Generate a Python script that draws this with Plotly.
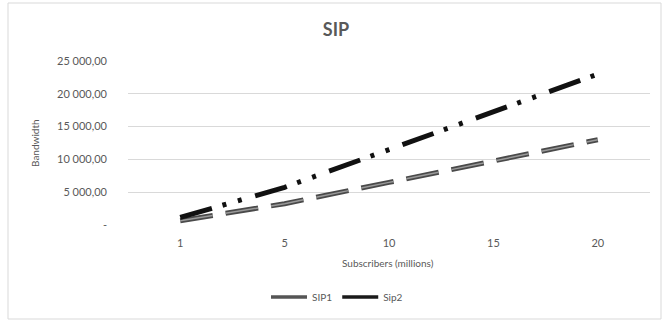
import plotly.graph_objects as go

# ---- data ----
subscribers = ["1", "5", "10", "15", "20"]
sip1 = [650, 3250, 6500, 9750, 13000]
sip2 = [1150, 5750, 11500, 17250, 23000]
y_tickvals = [0, 5000, 10000, 15000, 20000, 25000]
y_ticktext = ["-", "5 000,00", "10 000,00", "15 000,00", "20 000,00", "25 000,00"]

W, H = 670, 323
L, R, T, B = 128, 20, 61, 98
pw, ph = W - L - R, H - T - B

def px_x(x):
    return (x - L) / pw

def px_y(y):
    return (H - B - y) / ph

FONT = "Lato, 'Open Sans', sans-serif"
GRAY = "#595959"

fig = go.Figure()
fig.add_trace(go.Scatter(
    x=subscribers, y=sip1, name="SIP1", mode="lines", showlegend=False,
    line=dict(color="#4a4a4a", width=5, dash="33px,13px"),
))
fig.add_trace(go.Scatter(
    x=subscribers, y=sip1, name="SIP1", mode="lines", showlegend=False,
    line=dict(color="#9a9a9a", width=1.5, dash="33px,13px"), hoverinfo="skip",
))
fig.add_trace(go.Scatter(
    x=subscribers, y=sip2, name="Sip2", mode="lines", showlegend=False,
    line=dict(color="#111111", width=5, dash="33px,11px,4px,12px,4px,14px"),
))
# legend entries (solid samples, as in the reference)
fig.add_trace(go.Scatter(x=[None], y=[None], name="SIP1", mode="lines",
                         line=dict(color="#555555", width=3.5)))
fig.add_trace(go.Scatter(x=[None], y=[None], name="Sip2", mode="lines",
                         line=dict(color="#1a1a1a", width=3.5)))

fig.update_layout(
    width=W, height=H,
    margin=dict(l=L, r=R, t=T, b=B),
    paper_bgcolor="white", plot_bgcolor="white",
    font=dict(family=FONT, size=10, color=GRAY),
    title=dict(text="SIP", x=px_x(336), xref="paper", xanchor="center",
               y=1 - 30 / H, yref="container", yanchor="middle",
               font=dict(size=18, color=GRAY, weight="bold")),
    showlegend=True,
    legend=dict(orientation="h", x=px_x(337), xanchor="center",
                y=1 - 297 / H, yref="container", yanchor="middle",
                font=dict(size=10, color=GRAY), itemwidth=36),
    xaxis=dict(type="category", range=[-0.5, 4.5], showgrid=False,
               showline=False, zeroline=False, ticks="",
               tickfont=dict(size=11, color=GRAY), ticklabelstandoff=10),
    yaxis=dict(range=[0, 25000], tickvals=y_tickvals, ticktext=y_ticktext,
               showgrid=True, gridcolor="#d9d9d9", gridwidth=1,
               zeroline=False, showline=False, ticks="",
               tickfont=dict(size=11, color=GRAY), ticklabelstandoff=20),
    annotations=[
        dict(text="Bandwidth", x=px_x(35), y=px_y(143), xref="paper", yref="paper",
             textangle=-90, showarrow=False, xanchor="center", yanchor="middle",
             font=dict(size=10, color=GRAY)),
        dict(text="Subscribers (millions)", x=px_x(388), y=px_y(263), xref="paper",
             yref="paper", showarrow=False, xanchor="center", yanchor="middle",
             font=dict(size=10, color=GRAY)),
    ],
    shapes=[
        dict(type="rect", xref="paper", yref="paper",
             x0=px_x(8), x1=px_x(661), y0=px_y(319), y1=px_y(3),
             line=dict(color="#d9d9d9", width=1), fillcolor="rgba(0,0,0,0)",
             layer="below"),
    ],
)

fig.write_html("out.html", config={"displayModeBar": False})

# remove the browser's default page margin so the figure fills the window exactly
with open("out.html", "r", encoding="utf-8") as f:
    html = f.read()
html = html.replace("<head>", "<head><style>html,body{margin:0;padding:0;overflow:hidden}</style>", 1)
with open("out.html", "w", encoding="utf-8") as f:
    f.write(html)
